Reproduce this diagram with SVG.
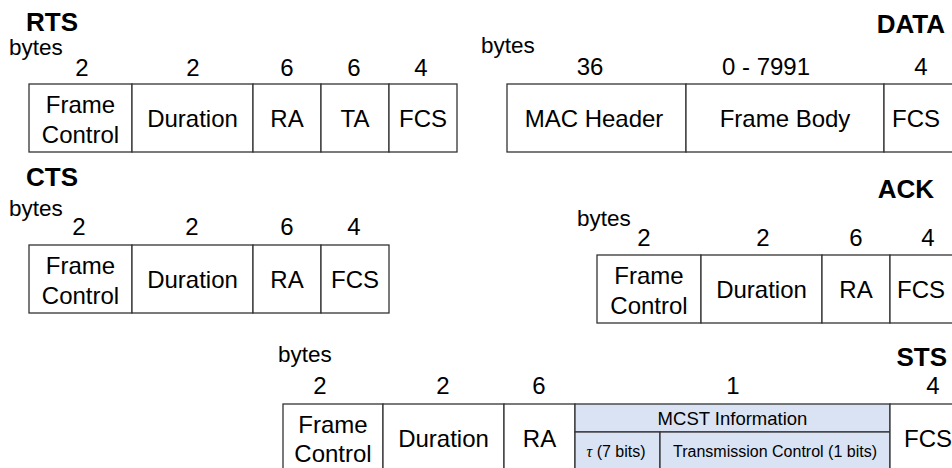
<svg xmlns="http://www.w3.org/2000/svg" width="952" height="468" viewBox="0 0 952 468">
<style>
text{font-family:"Liberation Sans",Arial,sans-serif;fill:#000}
.t{font-size:26px;font-weight:bold}
.by{font-size:22.5px}
.n{font-size:24px;text-anchor:middle}
.l{font-size:24px;text-anchor:middle}
.s{font-size:16px;text-anchor:middle}
.m{font-size:18.5px;text-anchor:middle}
.c{fill:#fff;stroke:#333;stroke-width:1.3}
.b{fill:#dae3f3;stroke:#333;stroke-width:1.3}
</style>
<rect width="952" height="468" fill="#fff"/>

<g id="rts">
<text class="t" x="26" y="31">RTS</text>
<text class="by" x="9" y="55">bytes</text>
<text class="n" x="82" y="76">2</text>
<text class="n" x="193" y="76">2</text>
<text class="n" x="287" y="76">6</text>
<text class="n" x="354" y="76">6</text>
<text class="n" x="421" y="76">4</text>
<rect class="c" x="29" y="84" width="103" height="68"/>
<rect class="c" x="132" y="84" width="121" height="68"/>
<rect class="c" x="253" y="84" width="68" height="68"/>
<rect class="c" x="321" y="84" width="68" height="68"/>
<rect class="c" x="389" y="84" width="68" height="68"/>
<text class="l" x="80.5" y="113">Frame</text>
<text class="l" x="80.5" y="143">Control</text>
<text class="l" x="192.5" y="127">Duration</text>
<text class="l" x="287" y="127">RA</text>
<text class="l" x="355" y="127">TA</text>
<text class="l" x="423" y="127">FCS</text>
</g>

<g id="data">
<text class="t" x="945" y="33" text-anchor="end">DATA</text>
<text class="by" x="481" y="53">bytes</text>
<text class="n" x="590" y="75">36</text>
<text class="n" x="766" y="75">0 - 7991</text>
<text class="n" x="921" y="75">4</text>
<rect class="c" x="507" y="84" width="179" height="68"/>
<rect class="c" x="686" y="84" width="198" height="68"/>
<rect class="c" x="884" y="84" width="70" height="68"/>
<text class="l" x="594" y="127">MAC Header</text>
<text class="l" x="785" y="127">Frame Body</text>
<text class="l" x="916" y="127">FCS</text>
</g>

<g id="cts">
<text class="t" x="26" y="186">CTS</text>
<text class="by" x="9" y="216">bytes</text>
<text class="n" x="79" y="235">2</text>
<text class="n" x="192" y="235">2</text>
<text class="n" x="287" y="235">6</text>
<text class="n" x="354" y="235">4</text>
<rect class="c" x="29" y="245" width="103" height="68"/>
<rect class="c" x="132" y="245" width="121" height="68"/>
<rect class="c" x="253" y="245" width="68" height="68"/>
<rect class="c" x="321" y="245" width="68" height="68"/>
<text class="l" x="80.5" y="274">Frame</text>
<text class="l" x="80.5" y="304">Control</text>
<text class="l" x="192.5" y="288">Duration</text>
<text class="l" x="287" y="288">RA</text>
<text class="l" x="355" y="288">FCS</text>
</g>

<g id="ack">
<text class="t" x="934" y="198" text-anchor="end">ACK</text>
<text class="by" x="577" y="226">bytes</text>
<text class="n" x="644" y="246">2</text>
<text class="n" x="763" y="246">2</text>
<text class="n" x="856" y="246">6</text>
<text class="n" x="928" y="246">4</text>
<rect class="c" x="597" y="255" width="104" height="68"/>
<rect class="c" x="701" y="255" width="121" height="68"/>
<rect class="c" x="822" y="255" width="68" height="68"/>
<rect class="c" x="890" y="255" width="68" height="68"/>
<text class="l" x="649" y="284">Frame</text>
<text class="l" x="649" y="314">Control</text>
<text class="l" x="761.5" y="298">Duration</text>
<text class="l" x="856" y="298">RA</text>
<text class="l" x="921" y="298">FCS</text>
</g>

<g id="sts">
<text class="t" x="947" y="366" text-anchor="end">STS</text>
<text class="by" x="278" y="362">bytes</text>
<text class="n" x="320" y="394">2</text>
<text class="n" x="443" y="394">2</text>
<text class="n" x="539" y="394">6</text>
<text class="n" x="733" y="394">1</text>
<text class="n" x="933" y="394">4</text>
<rect class="c" x="283" y="404" width="100" height="68"/>
<rect class="c" x="383" y="404" width="121" height="68"/>
<rect class="c" x="504" y="404" width="71" height="68"/>
<rect class="b" x="575" y="404" width="315" height="28"/>
<rect class="b" x="575" y="432" width="85" height="40"/>
<rect class="b" x="660" y="432" width="230" height="40"/>
<rect class="c" x="890" y="404" width="70" height="68"/>
<text class="l" x="333" y="433">Frame</text>
<text class="l" x="333" y="462">Control</text>
<text class="l" x="443.5" y="447">Duration</text>
<text class="l" x="539.5" y="447">RA</text>
<text class="m" x="732.5" y="425">MCST Information</text>
<text class="s" x="616" y="457"><tspan font-family="Liberation Serif" font-style="italic">τ</tspan> (7 bits)</text>
<text class="s" x="775" y="457">Transmission Control (1 bits)</text>
<text class="l" x="928" y="447">FCS</text>
</g>
</svg>
